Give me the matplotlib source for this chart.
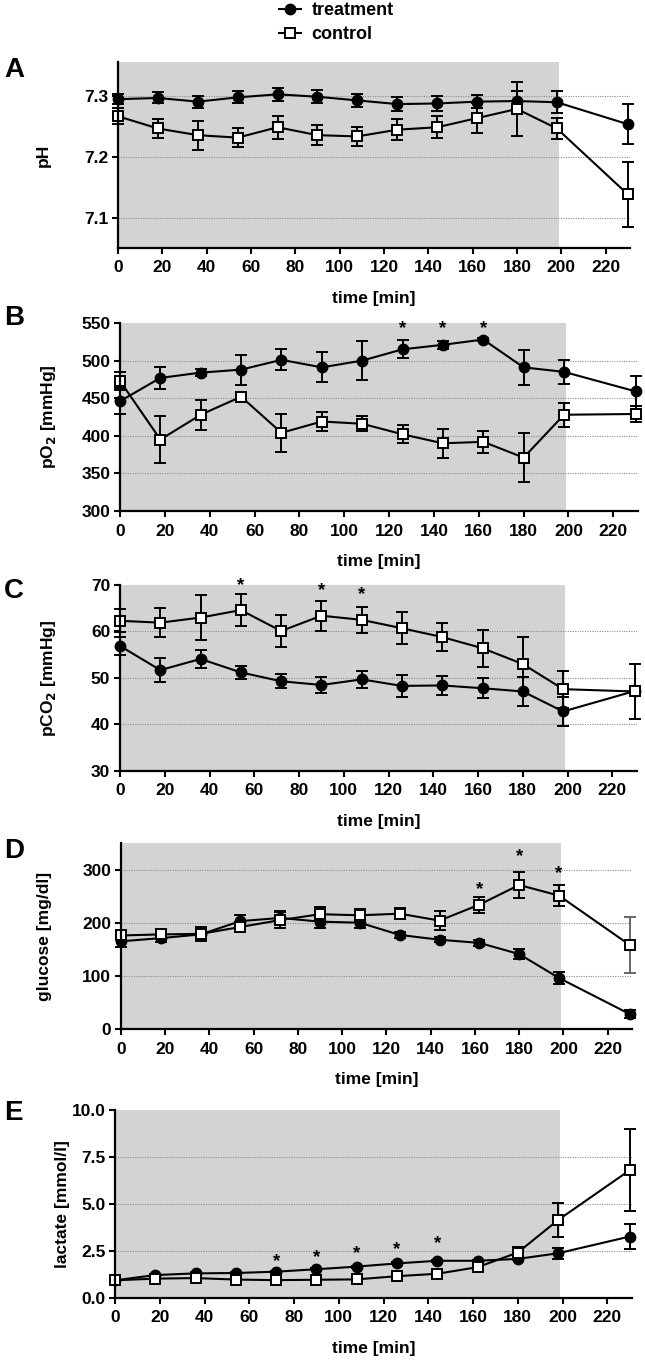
import matplotlib
matplotlib.use("Agg")
import matplotlib.pyplot as plt
from matplotlib.lines import Line2D
import numpy as np

plt.rcParams['font.family'] = ['Liberation Sans', 'DejaVu Sans']
plt.rcParams['font.weight'] = 'bold'

# ---------------- data ----------------
time = [0, 18, 36, 54, 72, 90, 108, 126, 144, 162, 180, 198, 230]

ph_treat = [7.294, 7.296, 7.290, 7.297, 7.302, 7.298, 7.292, 7.286, 7.287, 7.290, 7.291, 7.289, 7.253]
ph_treat_err = [0.008, 0.009, 0.010, 0.010, 0.011, 0.011, 0.011, 0.012, 0.012, 0.011, 0.017, 0.018, 0.033]
ph_ctrl = [7.266, 7.246, 7.235, 7.231, 7.248, 7.235, 7.233, 7.244, 7.248, 7.263, 7.278, 7.246, 7.138]
ph_ctrl_err = [0.013, 0.015, 0.024, 0.016, 0.019, 0.016, 0.016, 0.017, 0.018, 0.025, 0.045, 0.017, 0.053]

po2_treat = [446, 477, 484, 488, 501, 491, 500, 515, 521, 528, 491, 485, 459]
po2_treat_err = [17, 15, 5, 20, 14, 20, 26, 12, 5, 2, 23, 16, 20]
po2_ctrl = [473, 395, 428, 452, 404, 419, 416, 402, 390, 392, 371, 428, 429]
po2_ctrl_err = [12, 31, 20, 3, 25, 12, 10, 12, 19, 15, 33, 16, 11]

pco2_treat = [56.9, 51.7, 54.1, 51.2, 49.3, 48.5, 49.7, 48.3, 48.4, 47.8, 47.1, 42.8, 47.2]
pco2_treat_err = [2.0, 2.6, 1.9, 1.4, 1.5, 1.8, 1.9, 2.3, 2.0, 2.2, 3.1, 3.2, 1.0]
pco2_ctrl = [62.3, 61.9, 63.0, 64.6, 60.1, 63.4, 62.5, 60.7, 58.8, 56.4, 53.0, 47.6, 47.1]
pco2_ctrl_err = [2.5, 3.1, 4.9, 3.5, 3.4, 3.2, 2.8, 3.4, 3.1, 4.0, 5.8, 4.0, 6.0]

glu_treat = [165, 171, 178, 203, 209, 202, 200, 177, 168, 162, 141, 96, 28]
glu_treat_err = [10, 8, 8, 12, 13, 12, 10, 5, 5, 5, 9, 12, 7]
glu_ctrl = [176, 178, 179, 192, 205, 216, 214, 217, 204, 234, 271, 251, 158]
glu_ctrl_err = [8, 8, 13, 10, 15, 13, 11, 10, 18, 15, 25, 20, 52]

lac_treat = [0.94, 1.22, 1.31, 1.33, 1.40, 1.53, 1.67, 1.84, 1.98, 1.98, 2.08, 2.38, 3.27]
lac_treat_err = [0.05, 0.05, 0.05, 0.05, 0.05, 0.05, 0.05, 0.05, 0.05, 0.05, 0.08, 0.28, 0.67]
lac_ctrl = [0.94, 1.03, 1.06, 0.98, 0.95, 0.97, 0.99, 1.16, 1.29, 1.64, 2.42, 4.15, 6.80]
lac_ctrl_err = [0.05, 0.05, 0.05, 0.05, 0.05, 0.05, 0.05, 0.05, 0.05, 0.08, 0.30, 0.92, 2.17]

# significance markers (time, y-position)
star_B_t = [126, 144, 162]
star_B_y = [543, 543, 543]
star_C_t = [54, 90, 108]
star_C_y = [69.8, 68.8, 67.9]
star_D_t = [162, 180, 198]
star_D_y = [263, 325, 292]
star_E_t = [72, 90, 108, 126, 144]
star_E_y = [1.92, 2.15, 2.34, 2.56, 2.90]

xticks = [0, 20, 40, 60, 80, 100, 120, 140, 160, 180, 200, 220]

# ---------------- layout ----------------
W, H = 645, 1361
fig = plt.figure(figsize=(W / 100, H / 100), dpi=100)

def px_axes(left, right, top, bottom):
    return fig.add_axes([left / W, 1 - bottom / H, (right - left) / W, (bottom - top) / H])

FS = 12.5
GREY_BG = '#d3d3d3'

panels = [
    dict(box=(118, 630, 62, 248), letter='A', ly=70, ylabel='pH', ylx=43,
         ylim=(7.05, 7.355), yticks=[7.1, 7.2, 7.3], ytl=['7.1', '7.2', '7.3'],
         grid=[7.1, 7.2, 7.3],
         t=ph_treat, te=ph_treat_err, c=ph_ctrl, ce=ph_ctrl_err, st=[], sy=[]),
    dict(box=(120, 638, 323, 511), letter='B', ly=318, ylabel='pO$_2$ [mmHg]', ylx=48,
         ylim=(300, 550), yticks=[300, 350, 400, 450, 500, 550],
         ytl=['300', '350', '400', '450', '500', '550'], grid=[350, 400, 450, 500],
         t=po2_treat, te=po2_treat_err, c=po2_ctrl, ce=po2_ctrl_err, st=star_B_t, sy=star_B_y),
    dict(box=(120, 637, 585, 771), letter='C', ly=591, ylabel='pCO$_2$ [mmHg]', ylx=48,
         ylim=(30, 70), yticks=[30, 40, 50, 60, 70],
         ytl=['30', '40', '50', '60', '70'], grid=[40, 50, 60],
         t=pco2_treat, te=pco2_treat_err, c=pco2_ctrl, ce=pco2_ctrl_err, st=star_C_t, sy=star_C_y),
    dict(box=(121, 632, 843, 1029), letter='D', ly=851, ylabel='glucose [mg/dl]', ylx=45,
         ylim=(0, 350), yticks=[0, 100, 200, 300],
         ytl=['0', '100', '200', '300'], grid=[100, 200, 300],
         t=glu_treat, te=glu_treat_err, c=glu_ctrl, ce=glu_ctrl_err, st=star_D_t, sy=star_D_y),
    dict(box=(115, 632, 1110, 1298), letter='E', ly=1113, ylabel='lactate [mmol/l]', ylx=62,
         ylim=(0, 10), yticks=[0, 2.5, 5.0, 7.5, 10.0],
         ytl=['0.0', '2.5', '5.0', '7.5', '10.0'], grid=[2.5, 5.0, 7.5],
         t=lac_treat, te=lac_treat_err, c=lac_ctrl, ce=lac_ctrl_err, st=star_E_t, sy=star_E_y),
]

for i, p in enumerate(panels):
    l, r, tp, bt = p['box']
    ax = px_axes(l, r, tp, bt)
    ax.set_xlim(0, 231)
    ax.set_ylim(*p['ylim'])
    ax.set_facecolor('white')
    ax.axvspan(0, 199, color=GREY_BG, zorder=0, lw=0)
    for g in p['grid']:
        ax.axhline(g, color='#8c8c8c', lw=0.8, ls=(0, (1, 1.2)), zorder=1)

    # error bars
    ax.errorbar(time, p['c'], yerr=p['ce'], fmt='none', ecolor='black', elinewidth=1.4,
                capsize=4, capthick=1.4, zorder=3, clip_on=False)
    if p['letter'] == 'D':
        # last control error bar drawn in grey
        ax.errorbar(time[-1:], p['c'][-1:], yerr=p['ce'][-1:], fmt='none', ecolor='#6e6e6e',
                    elinewidth=1.4, capsize=4, capthick=1.4, zorder=3.5, clip_on=False)
    ax.errorbar(time, p['t'], yerr=p['te'], fmt='none', ecolor='black', elinewidth=1.4,
                capsize=4, capthick=1.4, zorder=3, clip_on=False)

    # lines + markers
    ax.plot(time, p['c'], color='black', lw=1.5, marker='s', ms=7, mfc='white', mec='black',
            mew=1.4, zorder=5, clip_on=False)
    ax.plot(time, p['t'], color='black', lw=1.5, marker='o', ms=7.5, mfc='black', mec='black',
            zorder=4, clip_on=False)

    for st, sy in zip(p['st'], p['sy']):
        ax.text(st, sy, '*', ha='center', va='center', fontsize=13.5, fontweight='bold',
                clip_on=False, zorder=6)

    for s in ['top', 'right']:
        ax.spines[s].set_visible(False)
    for s in ['left', 'bottom']:
        ax.spines[s].set_linewidth(1.6)
        ax.spines[s].set_zorder(6)
    ax.set_xticks(xticks)
    ax.set_xticklabels([str(x) for x in xticks])
    ax.set_yticks(p['yticks'])
    ax.set_yticklabels(p['ytl'])
    ax.tick_params(axis='both', direction='out', length=4.5, width=1.5, labelsize=FS)
    ax.tick_params(axis='x', pad=4.5)
    ax.tick_params(axis='y', pad=2.5)
    for lab in ax.get_xticklabels() + ax.get_yticklabels():
        lab.set_fontweight('bold')
    ax.set_xlabel('time [min]', fontsize=FS, fontweight='bold', labelpad=11)

    # y label at fixed pixel x
    fig.text(p['ylx'] / W, 1 - ((tp + bt) / 2) / H, p['ylabel'], rotation=90,
             ha='center', va='center', fontsize=FS, fontweight='bold')
    # panel letter
    fig.text(4 / W, 1 - p['ly'] / H, p['letter'], ha='left', va='center',
             fontsize=20, fontweight='bold')

# legend
handles = [
    Line2D([0], [0], color='black', lw=1.5, marker='o', ms=7.5, mfc='black', mec='black'),
    Line2D([0], [0], color='black', lw=1.5, marker='s', ms=7, mfc='white', mec='black', mew=1.4),
]
fig.legend(handles, ['treatment', 'control'], loc='upper left',
           bbox_to_anchor=(279 / W, 1 - 2 / H), frameon=False,
           prop={'weight': 'bold', 'size': FS + 0.5}, handlelength=1.2, handletextpad=0.6,
           labelspacing=0.4, borderpad=0, borderaxespad=0)

fig.savefig('out.png', dpi=100)
